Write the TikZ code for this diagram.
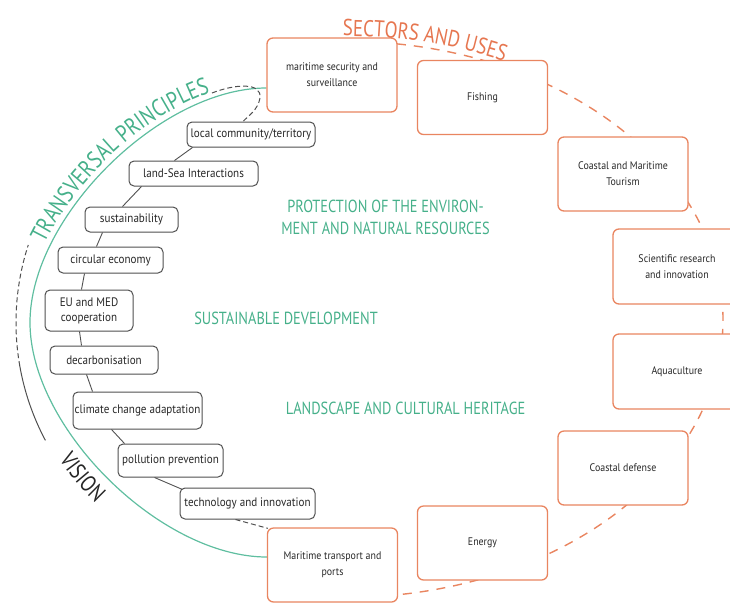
\documentclass[tikz,border=0pt]{standalone}
\usepackage{fontspec}
\newfontfamily\cf{PT Sans}[FakeStretch=0.82]
\newfontfamily\cfb{PT Sans}[FakeStretch=0.9]
\usetikzlibrary{decorations.text,backgrounds}
\definecolor{orng}{RGB}{233,133,96}
\definecolor{orngt}{RGB}{230,118,80}
\definecolor{tealt}{RGB}{70,176,138}
\definecolor{grnl}{RGB}{95,190,160}
\definecolor{gbox}{RGB}{80,80,80}
\definecolor{txt}{RGB}{40,40,40}
\begin{document}
\begin{tikzpicture}[x=1pt,y=-1pt,
  obox/.style={draw=orng, line width=1.3pt, rounded corners=6pt, fill=white,
    minimum width=130pt, minimum height=74pt, align=center,
    font=\cfb\fontsize{11}{16}\selectfont, text=txt, inner sep=2pt},
  gbx/.style={draw=gbox, line width=1pt, rounded corners=5pt, fill=white,
    align=center, font=\cfb\fontsize{12.3}{15}\selectfont, text=txt, inner sep=0pt},
  link/.style={draw=gbox, line width=0.9pt},
  ctext/.style={align=center, text=tealt, font=\cf\fontsize{17.5}{22}\selectfont},
  bdash/.style={draw=gbox, line width=1pt, dash pattern=on 5pt off 3pt}
]
\useasboundingbox (0,0) rectangle (730,603);
\clip (0,0) rectangle (730,603);

% orange sector boxes
\node[obox] (ms) at (332,75) {maritime security and\\surveillance};
\node[obox] (fi) at (482.5,97.5) {Fishing};
\node[obox] (ct) at (623,174) {Coastal and Maritime\\Tourism};
\node[obox, minimum width=128pt, minimum height=75pt] (sr) at (677,266.5) {Scientific research\\and innovation};
\node[obox, minimum width=128pt, minimum height=75pt] (aq) at (677,371.5) {Aquaculture};
\node[obox] (cd) at (623,468) {Coastal defense};
\node[obox] (en) at (482.5,543) {Energy};
\node[obox] (mt) at (332.5,565) {Maritime transport and\\ports};

% grey principle boxes
\node[gbx, minimum width=128pt, minimum height=25pt] (lc) at (251,134.5) {local community/territory};
\node[gbx, minimum width=129pt, minimum height=25pt] (ls) at (193.5,173.5) {land-Sea Interactions};
\node[gbx, minimum width=93pt, minimum height=25pt] (su) at (131.5,219.5) {sustainability};
\node[gbx, minimum width=105pt, minimum height=26pt] (ce) at (110.5,260) {circular economy};
\node[gbx, minimum width=88pt, minimum height=41pt] (eu) at (89,310.5) {EU and MED\\cooperation};
\node[gbx, minimum width=108pt, minimum height=28pt] (de) at (104,360) {decarbonisation};
\node[gbx, minimum width=129pt, minimum height=37pt] (cc) at (137.5,410.5) {climate change adaptation};
\node[gbx, minimum width=105pt, minimum height=33pt] (pp) at (170.5,460.5) {pollution prevention};
\node[gbx, minimum width=135pt, minimum height=31pt] (ti) at (247.5,503.5) {technology and innovation};

% central texts
\node[ctext] (pe) at (385.5,217.5) {PROTECTION OF THE ENVIRON-\\MENT AND NATURAL RESOURCES};
\node[ctext] (sd) at (286,318) {SUSTAINABLE DEVELOPMENT};
\node[ctext] (lh) at (405.5,408.5) {LANDSCAPE AND CULTURAL HERITAGE};

% connectors between principles
\draw[link] ([xshift=6pt]lc.south west) -- ([xshift=46pt]ls.north west);
\draw[link] ([xshift=13pt]ls.south west) -- ([xshift=38pt]su.north west);
\draw[link] ([xshift=18pt]su.south west) -- ([xshift=39pt]ce.north west);
\draw[link] ([xshift=27pt]ce.south west) -- ([xshift=37pt]eu.north west);
\draw[link] ([xshift=35pt]eu.south west) -- ([xshift=32pt]de.north west);
\draw[link] ([xshift=37pt]de.south west) -- ([xshift=20pt]cc.north west);
\draw[link] ([xshift=39pt]cc.south west) -- ([xshift=7pt]pp.north west);
\draw[link] ([xshift=37pt]pp.south west) -- ([xshift=3pt,yshift=-2pt]ti.north west);
\draw[bdash] ([xshift=56pt]ti.south west) -- ([xshift=1pt,yshift=-1pt]mt.north west);

\coordinate (vc) at (267,322.5);
\coordinate (oc) at (346,320);
\coordinate (hk) at (212,93);

\begin{scope}[on background layer]
  % orange dashed ring
  \draw[orng, line width=1.4pt, dash pattern=on 9pt off 8pt]
    ([xshift=14pt,yshift=-4pt]ms.north) arc[start angle=-90, end angle=90, x radius=377, y radius=278];
  % green transversal line
  \draw[grnl, line width=1.2pt] ([yshift=-13pt]ms.west)
    .. controls (160.4,88) and (30,217) .. (30,322.5)
    .. controls (30,428) and (160.4,557) .. ([yshift=8pt]mt.west);
  % black vision line
  \draw[gbox, line width=1pt] (vc) ++(152:251) arc[start angle=152, end angle=170, radius=251];
  \draw[bdash] (vc) ++(170:251) arc[start angle=170, end angle=198, radius=251];
  \draw[bdash] (hk) .. controls (235,84) and (262,82) .. (260,98)
    .. controls (258,110) and (248,116) .. ([xshift=-8pt]lc.north);
\end{scope}

% curved titles
\path[decorate, decoration={text along path, text align=center, text color=orngt,
   text={|\cf\fontsize{23}{23}\selectfont|SECTORS AND USES}}]
   (oc) ++(-94:384 and 284) arc[start angle=-94, end angle=-62, x radius=384, y radius=284];
\path[decorate, decoration={text along path, text align=center, text color=tealt, pre length=24pt,
   text={|\cf\fontsize{24}{24}\selectfont|TRANSVERSAL PRINCIPLES}}]
   (24,322.5) .. controls (24,214.3) and (157.7,82) .. (267,82);
\path[decorate, decoration={text along path, text align=center, text color=black!85,
   text={|\cf\fontsize{23}{23}\selectfont|VISION}}]
   (vc) ++(149:249) arc[start angle=149, end angle=131, radius=249];
\end{tikzpicture}
\end{document}
